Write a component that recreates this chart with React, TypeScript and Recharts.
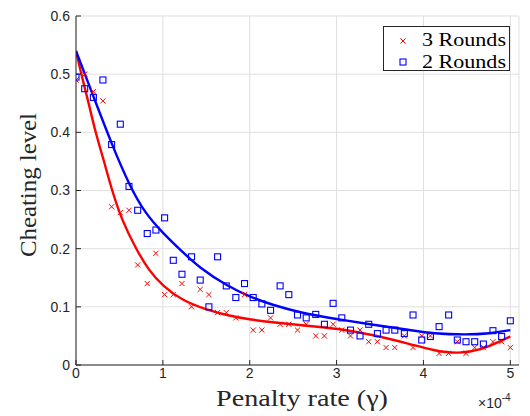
import {
  ComposedChart,
  Scatter,
  Line,
  XAxis,
  YAxis,
  CartesianGrid,
} from 'recharts';

// penalty rate (x 1e-4), one sample per marker
const penaltyRates = [
  0, 0.1, 0.2, 0.31, 0.41, 0.51, 0.61, 0.71, 0.82, 0.92,
  1.02, 1.12, 1.22, 1.33, 1.43, 1.53, 1.63, 1.73, 1.84, 1.94,
  2.04, 2.14, 2.24, 2.35, 2.45, 2.55, 2.65, 2.76, 2.86, 2.96,
  3.06, 3.16, 3.27, 3.37, 3.47, 3.57, 3.67, 3.78, 3.88, 3.98,
  4.08, 4.18, 4.29, 4.39, 4.49, 4.59, 4.69, 4.8, 4.9, 5.0,
];

const threeRounds = [
  0.49, 0.5, 0.47, 0.454, 0.272, 0.262, 0.266, 0.172, 0.14, 0.192,
  0.121, 0.121, 0.14, 0.1, 0.13, 0.121, 0.09, 0.09, 0.081, 0.121,
  0.06, 0.06, 0.081, 0.07, 0.07, 0.06, 0.07, 0.05, 0.05, 0.07,
  0.06, 0.05, 0.06, 0.04, 0.04, 0.03, 0.03, 0.05, 0.03, 0.05,
  0.05, 0.02, 0.02, 0.04, 0.02, 0.03, 0.03, 0.04, 0.04, 0.03,
];

const twoRounds = [
  0.495, 0.475, 0.46, 0.49, 0.379, 0.414, 0.307, 0.266, 0.226, 0.232,
  0.253, 0.18, 0.156, 0.186, 0.146, 0.1, 0.186, 0.136, 0.116, 0.14,
  0.116, 0.105, 0.094, 0.136, 0.121, 0.086, 0.081, 0.087, 0.07, 0.106,
  0.081, 0.06, 0.05, 0.07, 0.054, 0.06, 0.06, 0.054, 0.086, 0.043,
  0.049, 0.066, 0.086, 0.043, 0.04, 0.04, 0.036, 0.059, 0.049, 0.076,
];

// fitted curves
const redFitX = [0, 0.07, 0.15, 0.22, 0.32, 0.41, 0.53, 0.69, 0.84, 1.0, 1.22, 1.5, 1.75, 2.0, 2.35, 2.69, 3.0, 3.42, 3.85, 4.11, 4.41, 4.68, 4.87, 5.0];
const redFitY = [0.54, 0.494, 0.448, 0.402, 0.352, 0.302, 0.248, 0.2, 0.162, 0.136, 0.111, 0.095, 0.085, 0.078, 0.072, 0.067, 0.063, 0.052, 0.036, 0.025, 0.019, 0.027, 0.04, 0.049];

const blueFitX = [0, 0.2, 0.41, 0.62, 0.8, 1.0, 1.2, 1.43, 1.74, 2.0, 2.27, 2.58, 3.0, 3.42, 3.85, 4.11, 4.49, 4.76, 5.0];
const blueFitY = [0.54, 0.462, 0.38, 0.307, 0.26, 0.227, 0.198, 0.166, 0.136, 0.117, 0.103, 0.09, 0.079, 0.069, 0.06, 0.054, 0.052, 0.054, 0.06];

const xTicks = [0, 1, 2, 3, 4, 5];
const yTicks = [0, 0.1, 0.2, 0.3, 0.4, 0.5, 0.6];

const redPts = penaltyRates.map((x, i) => ({ x, y: threeRounds[i] }));
const bluePts = penaltyRates.map((x, i) => ({ x, y: twoRounds[i] }));
const redFit = redFitX.map((x, i) => ({ x, y: redFitY[i] }));
const blueFit = blueFitX.map((x, i) => ({ x, y: blueFitY[i] }));

const AXIS = '#262626';
const SERIF = '"Liberation Serif", "Times New Roman", serif';
const SANS = '"Liberation Sans", Arial, sans-serif';

const Cross = (props: any) => {
  const { cx, cy } = props;
  const s = 2.6;
  return (
    <path
      d={`M${cx - s},${cy - s}L${cx + s},${cy + s}M${cx - s},${cy + s}L${cx + s},${cy - s}`}
      stroke="#ff0000"
      strokeWidth={1}
    />
  );
};

const Square = (props: any) => {
  const { cx, cy } = props;
  return <rect x={cx - 3} y={cy - 3} width={6} height={6} fill="none" stroke="#0000ff" strokeWidth={1.1} />;
};

export default function App() {
  const tickStyle = { fontSize: 14, fill: AXIS, fontFamily: SANS };

  return (
    <div style={{ position: 'absolute', left: 0, top: 0, width: 530, height: 416, background: '#fff' }}>
      <ComposedChart width={530} height={416} margin={{ top: 16, right: 11, bottom: 0, left: 0 }}>
        <CartesianGrid stroke="#dfdfdf" strokeWidth={1} />
        <XAxis
          dataKey="x"
          type="number"
          domain={[0, 5.1]}
          ticks={xTicks}
          allowDataOverflow
          height={51}
          tickSize={-5}
          tickMargin={8}
          stroke={AXIS}
          tick={tickStyle}
          label={{
            content: () => (
              <text
                x={302}
                y={406}
                textAnchor="middle"
                fontFamily={SERIF}
                fontSize={24}
                fill={AXIS}
                textLength={172}
                lengthAdjust="spacingAndGlyphs"
              >
                Penalty rate (γ)
              </text>
            ),
          }}
        />
        <XAxis
          xAxisId="top"
          orientation="top"
          type="number"
          domain={[0, 5.1]}
          ticks={xTicks}
          allowDataOverflow
          height={0}
          tickSize={-5}
          stroke={AXIS}
          tickFormatter={() => ''}
        />
        <YAxis
          dataKey="y"
          type="number"
          domain={[0, 0.6]}
          ticks={yTicks}
          width={76}
          tickSize={-5}
          tickMargin={11}
          stroke={AXIS}
          tick={tickStyle}
          label={{
            content: () => (
              <text
                x={36}
                y={185}
                textAnchor="middle"
                fontFamily={SERIF}
                fontSize={24}
                fill={AXIS}
                textLength={144}
                lengthAdjust="spacingAndGlyphs"
                transform="rotate(-90 36 185)"
              >
                Cheating level
              </text>
            ),
          }}
        />
        <YAxis
          yAxisId="right"
          orientation="right"
          type="number"
          domain={[0, 0.6]}
          ticks={yTicks}
          width={0}
          tickSize={-5}
          stroke={AXIS}
          tickFormatter={() => ''}
        />
        <Scatter data={redPts} shape={<Cross />} isAnimationActive={false} />
        <Scatter data={bluePts} shape={<Square />} isAnimationActive={false} />
        <Line
          data={redFit}
          dataKey="y"
          type="basis"
          stroke="#ff0000"
          strokeWidth={2.4}
          dot={false}
          isAnimationActive={false}
        />
        <Line
          data={blueFit}
          dataKey="y"
          type="basis"
          stroke="#0000ff"
          strokeWidth={2.4}
          dot={false}
          isAnimationActive={false}
        />
      </ComposedChart>

      <svg width={530} height={416} style={{ position: 'absolute', left: 0, top: 0, pointerEvents: 'none' }}>
        <text x={478} y={408} fontFamily={SANS} fontSize={14} fill={AXIS}>
          ×10
          <tspan dy={-7} fontSize={10}>-4</tspan>
        </text>
        <rect x={383.5} y={26.5} width={126} height={44} fill="#fff" stroke={AXIS} strokeWidth={1} />
        <path d="M400.4,38.4L405.6,43.6M400.4,43.6L405.6,38.4" stroke="#ff0000" strokeWidth={1} />
        <text x={422} y={46} fontFamily={SERIF} fontSize={19} fill="#000" textLength={84} lengthAdjust="spacingAndGlyphs">
          3 Rounds
        </text>
        <rect x={400} y={59} width={6} height={6} fill="none" stroke="#0000ff" strokeWidth={1.1} />
        <text x={422} y={68} fontFamily={SERIF} fontSize={19} fill="#000" textLength={84} lengthAdjust="spacingAndGlyphs">
          2 Rounds
        </text>
      </svg>
    </div>
  );
}
